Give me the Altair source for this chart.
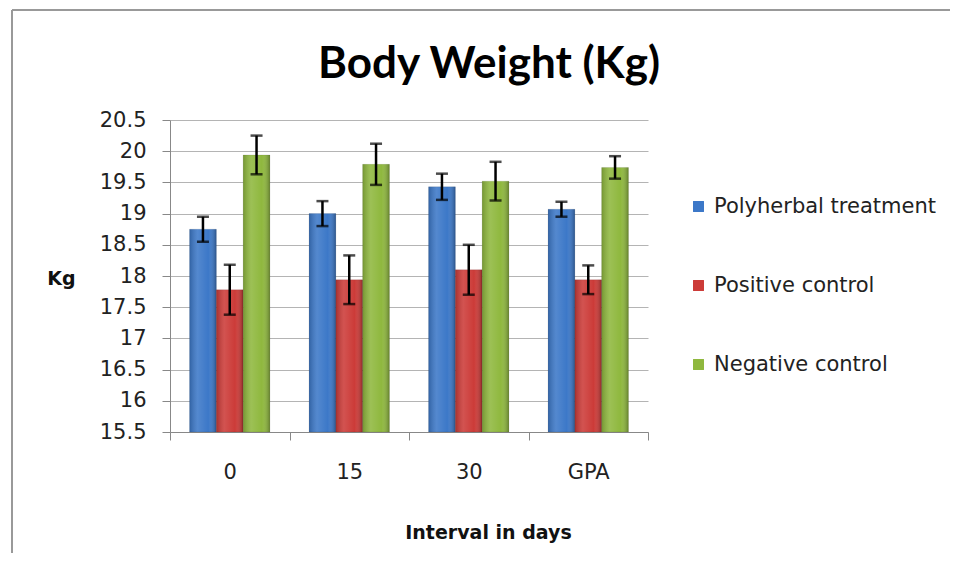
import altair as alt
import pandas as pd

categories = ["0", "15", "30", "GPA"]
series = ["Polyherbal treatment", "Positive control", "Negative control"]
polyherbal = [18.75, 19.00, 19.43, 19.07]
polyherbal_err = [0.20, 0.20, 0.21, 0.12]
positive = [17.78, 17.94, 18.10, 17.94]
positive_err = [0.40, 0.39, 0.40, 0.23]
negative = [19.94, 19.79, 19.52, 19.74]
negative_err = [0.31, 0.33, 0.31, 0.18]
colors = ["#3c78c8", "#cc3b38", "#8fb83e"]
title_text = "Body Weight (Kg)"
y_min, y_max = 15.5, 20.5
y_ticks = [15.5, 16, 16.5, 17, 17.5, 18, 18.5, 19, 19.5, 20, 20.5]

rows = []
for s, vals, errs in zip(series, [polyherbal, positive, negative],
                         [polyherbal_err, positive_err, negative_err]):
    for c, v, e in zip(categories, vals, errs):
        rows.append({"interval": c, "series": s, "value": v,
                     "lo": v - e, "hi": v + e, "base": y_min})
df = pd.DataFrame(rows)

FONT = "DejaVu Sans"
TFONT = "Lato"
W, H = 478, 312

x_enc = alt.X("interval:N", sort=categories,
              scale=alt.Scale(paddingInner=0, paddingOuter=0),
              axis=alt.Axis(title="Interval in days", labelAngle=0,
                            labelFontSize=21, labelFont=FONT, labelColor="#222",
                            labelPadding=21, tickBand="extent", tickSize=8,
                            tickColor="#888", domainColor="#888",
                            titleFont=FONT, titleFontSize=19, titleFontWeight="bold",
                            titleColor="#111", titleX=318, titleY=100,
                            titleBaseline="middle", titleAlign="center",
                            grid=False))
xo_enc = alt.XOffset("series:N", sort=series,
                     scale=alt.Scale(paddingInner=0, paddingOuter=0.73))
y_scale = alt.Scale(domain=[y_min, y_max], zero=False, nice=False)
y_axis = alt.Axis(title="Kg", values=y_ticks,
                  format=".1~f", labelFontSize=21, labelFont=FONT,
                  labelColor="#222", labelPadding=16, tickSize=8,
                  labelOverlap=False,
                  tickColor="#888", domainColor="#888",
                  gridColor="#b4b4b4", gridWidth=1,
                  titleAngle=0, titleFont=FONT, titleFontSize=19,
                  titleFontWeight="bold", titleColor="#111",
                  titleX=-109, titleY=158, titleAlign="center",
                  titleBaseline="middle")


def y_enc(field):
    return alt.Y(field, scale=y_scale, axis=y_axis, title="Kg")


bars = alt.Chart(df).mark_bar(stroke="#00000030", strokeWidth=0.5).encode(
    x=x_enc,
    xOffset=xo_enc,
    y=y_enc("value:Q"),
    y2="base:Q",
    color=alt.Color("series:N", sort=series,
                    scale=alt.Scale(domain=series, range=colors),
                    legend=alt.Legend(title=None, orient="none", legendX=518,
                                      legendY=76, symbolType="square",
                                      symbolSize=120, symbolStrokeWidth=0,
                                      labelFont=FONT, labelFontSize=21,
                                      labelColor="#222", rowPadding=57,
                                      labelOffset=5, labelLimit=300)),
)

shade = alt.Chart(df).mark_bar(
    color=alt.LinearGradient(
        gradient="linear", x1=0, x2=1, y1=0, y2=0,
        stops=[alt.GradientStop(offset=0, color="rgba(0,0,0,0.18)"),
               alt.GradientStop(offset=0.3, color="rgba(255,255,255,0.12)"),
               alt.GradientStop(offset=0.7, color="rgba(255,255,255,0.0)"),
               alt.GradientStop(offset=1, color="rgba(0,0,0,0.3)")])
).encode(x=x_enc, xOffset=xo_enc, y=y_enc("value:Q"), y2="base:Q")

err_rule = alt.Chart(df).mark_rule(color="#000", strokeWidth=2.5).encode(
    x=x_enc, xOffset=xo_enc, y=y_enc("lo:Q"), y2="hi:Q")
cap_lo = alt.Chart(df).mark_tick(color="#000", thickness=2.5, size=12).encode(
    x=x_enc, xOffset=xo_enc, y=y_enc("lo:Q"))
cap_hi = alt.Chart(df).mark_tick(color="#000", thickness=2.5, size=12).encode(
    x=x_enc, xOffset=xo_enc, y=y_enc("hi:Q"))

frame_df = pd.DataFrame({"t": [title_text]})
frame_top = alt.Chart(frame_df).mark_rule(color="#999", strokeWidth=2).encode(
    x=alt.value(-158), x2=alt.value(800), y=alt.value(-110))
frame_left = alt.Chart(frame_df).mark_rule(color="#999", strokeWidth=2).encode(
    x=alt.value(-158), y=alt.value(-110), y2=alt.value(440))
title = alt.Chart(frame_df).mark_text(
    font=TFONT, fontSize=44, fontWeight="bold", color="#000",
    align="center", baseline="alphabetic").encode(
    text="t:N", x=alt.value(319), y=alt.value(-42))

chart = alt.layer(bars, shade, err_rule, cap_lo, cap_hi, frame_top, frame_left,
                  title).properties(
    width=W, height=H,
    background="white",
    autosize=alt.AutoSizeParams(type="none"),
    padding={"left": 162, "top": 112, "right": 302, "bottom": 121},
).configure_view(strokeWidth=0, stroke=None)

chart.save("out.html", embed_options={"renderer": "svg", "actions": False})
